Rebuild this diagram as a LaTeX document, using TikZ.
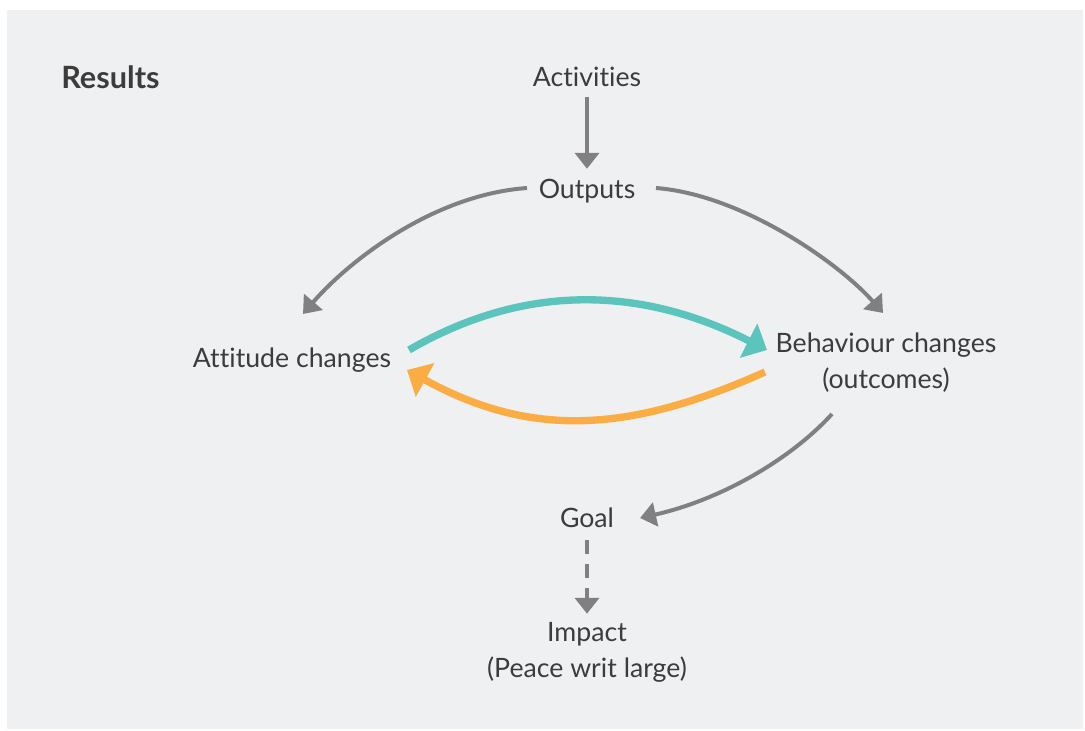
\documentclass[tikz,border=0pt]{standalone}
\usepackage{fontspec}
\setmainfont{Lato}[Ligatures=NoCommon]
\usetikzlibrary{arrows.meta}
\definecolor{bgc}{HTML}{EFF0F2}
\definecolor{txtc}{HTML}{3C3C3C}
\definecolor{grayc}{HTML}{808082}
\definecolor{tealc}{HTML}{5BC4BC}
\definecolor{orangec}{HTML}{FBAC42}
\begin{document}
\begin{tikzpicture}[x=0.75pt,y=-0.75pt,
  lbl/.style={text=txtc,font=\fontsize{20}{27}\selectfont,inner sep=0pt,align=center},
  gline/.style={draw=grayc,line width=3pt,-{Triangle[length=12pt,width=18pt]}},
  bigline/.style={line width=5.5pt,-{Triangle[length=15.5pt,width=28pt]}}]
\useasboundingbox (0,0) rectangle (1085,731);
\fill[bgc] (7,10) rectangle (1083,729);
\node[lbl,font=\bfseries\fontsize{23}{28}\selectfont,anchor=west] (results) at (61,77) {Results};
\node[lbl] (act) at (587,77) {Activities};
\node[lbl] (out) at (587,191) {Outputs};
\node[lbl] (att) at (292,360) {Attitude changes};
\node[lbl] (beh) at (886,363) {Behaviour changes\\(outcomes)};
\node[lbl] (goal) at (587,518) {Goal};
\node[lbl] (imp) at (587,652) {Impact\\(Peace writ large)};
% connector end points
\coordinate (o1) at (527,188);
\coordinate (a1) at (303,314);
\coordinate (o2) at (656,188);
\coordinate (b1) at (883,313);
\coordinate (t1) at (409,350);
\coordinate (t2) at (767,350);
\coordinate (r1) at (765,372);
\coordinate (r2) at (407,370);
\coordinate (b2) at (832,414);
\coordinate (g1) at (640,518);
% connectors
\draw[gline] ([yshift=-7.5pt]act.south) -- ([yshift=7.5pt]out.north);
\draw[gline] (o1) .. controls (430,195) and (345,265) .. (a1);
\draw[gline] (o2) .. controls (744,195) and (841,265) .. (b1);
\draw[bigline,draw=tealc] (t1) .. controls (528,281) and (645,288) .. (t2);
\draw[bigline,draw=orangec] (r1) .. controls (633,431) and (534,440) .. (r2);
\draw[gline] (b2) .. controls (790,460) and (720,500) .. (g1);
\draw[gline,dash pattern=on 10.5pt off 7.5pt] ([yshift=-9pt]goal.south) -- ([yshift=6pt]imp.north);
\end{tikzpicture}
\end{document}
